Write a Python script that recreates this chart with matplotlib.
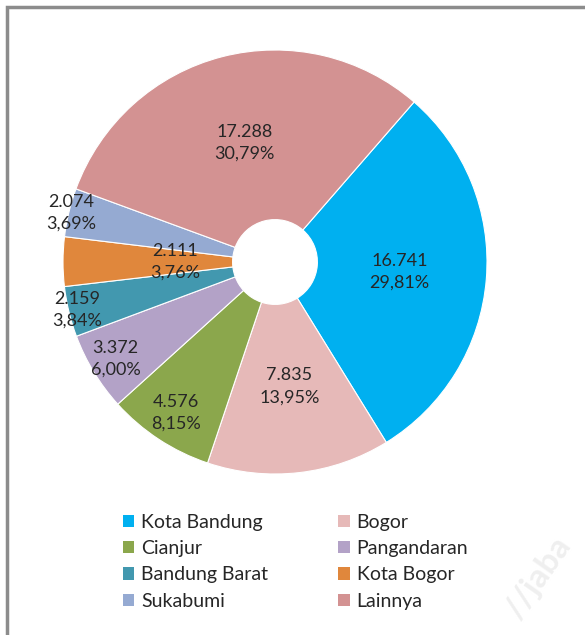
import matplotlib.pyplot as plt
from matplotlib.patches import Rectangle, Patch
import numpy as np

plt.rcParams['font.family'] = ['Lato', 'DejaVu Sans']

# data
regions = ['Kota Bandung', 'Bogor', 'Cianjur', 'Pangandaran',
           'Bandung Barat', 'Kota Bogor', 'Sukabumi', 'Lainnya']
values = [16741, 7835, 4576, 3372, 2159, 2111, 2074, 17288]

colors = ['#00B0F0', '#E6B9B8', '#8BA74C', '#B3A2C7',
          '#4298AF', '#E0873C', '#95AAD2', '#D39292']
# where each label sits, as fraction of the radius
label_r = [0.59, 0.59, 0.85, 0.88, 0.96, 0.47, 0.99, 0.58]

W, H = 585, 635
fig = plt.figure(figsize=(W / 100, H / 100), dpi=100)

# frame (right/bottom cut off like the screenshot)
fig.patches.append(Rectangle((7 / W, -0.1), 1.2, 1 - 7 / H + 0.1,
                             transform=fig.transFigure, fill=False,
                             edgecolor='#8C8C8C', linewidth=2.5))

cx, cy, r = 275, 262, 212
ax = fig.add_axes([(cx - r) / W, 1 - (cy + r) / H, 2 * r / W, 2 * r / H])
wedges, _ = ax.pie(values, colors=colors, startangle=49, counterclock=False,
                   radius=1, wedgeprops=dict(width=0.80, edgecolor='white',
                                             linewidth=0.8))
ax.set_xlim(-1, 1)
ax.set_ylim(-1, 1)
ax.set_aspect('equal')
ax.axis('off')

total = sum(values)
for w, v, lr in zip(wedges, values, label_r):
    ang = np.deg2rad((w.theta1 + w.theta2) / 2)
    pct = f"{v / total * 100:.2f}".replace('.', ',')
    txt = f"{v:,}".replace(',', '.') + "\n" + pct + "%"
    ax.text(lr * np.cos(ang), lr * np.sin(ang), txt, ha='center', va='center',
            fontsize=13, color='#262626', linespacing=1.45)

order = [0, 2, 4, 6, 1, 3, 5, 7]
handles = [Patch(facecolor=colors[i], edgecolor='none') for i in order]
fig.legend(handles, [regions[i] for i in order], ncol=2, frameon=False,
           loc='upper left', bbox_to_anchor=(115 / W, 1 - 506 / H),
           fontsize=14, handlelength=0.6, handleheight=0.6,
           handletextpad=0.35, columnspacing=3.6, labelspacing=0.48,
           borderaxespad=0, labelcolor='#262626')

fig.text(538 / W, 1 - 578 / H, '//jaba', fontsize=24, color='#EFEFEF',
         rotation=55, ha='center', va='center', fontweight='bold')

fig.savefig('out.png', dpi=100)
